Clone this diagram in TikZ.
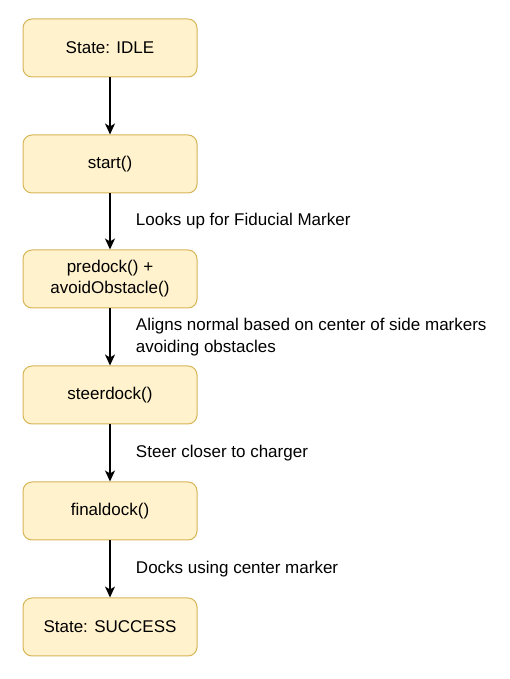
\documentclass[tikz,border=0pt]{standalone}
\usepackage{fontspec}
\setmainfont{Liberation Sans}
\usetikzlibrary{arrows.meta,graphs}

\tikzset{
  stepbox/.style={draw=boxline, fill=boxfill, line width=1pt, rounded corners=9pt,
    minimum width=174pt, minimum height=58pt, align=center, font=\fontsize{17}{21}\selectfont},
  lbl/.style={right, xshift=22pt, align=left, font=\fontsize{17}{22}\selectfont}
}
\definecolor{boxfill}{HTML}{FFF2CC}
\definecolor{boxline}{HTML}{D6B656}

\begin{document}
\begin{tikzpicture}[x=1pt,y=1pt]
  \useasboundingbox (0,0) rectangle (510,679);
    \node[stepbox] (a) at (110,631) {State: IDLE};
    \node[stepbox] (b) at (110,515) {start()};
    \node[stepbox] (c) at (110,400) {predock() +\\avoidObstacle()};
    \node[stepbox] (d) at (110,284) {steerdock()};
    \node[stepbox] (e) at (110,168) {finaldock()};
    \node[stepbox] (f) at (110,52) {State: SUCCESS};
  \graph[use existing nodes, edges={line width=1.3pt, -{Stealth[length=11pt,width=10pt,inset=3pt]}}] {
    a -> b;
    b ->[edge node={node[lbl, midway] {Looks up for Fiducial Marker}}] c;
    c ->[edge node={node[lbl, midway] {Aligns normal based on center of side markers\\avoiding obstacles}}] d;
    d ->[edge node={node[lbl, midway] {Steer closer to charger}}] e;
    e ->[edge node={node[lbl, midway] {Docks using center marker}}] f;
  };
\end{tikzpicture}
\end{document}
